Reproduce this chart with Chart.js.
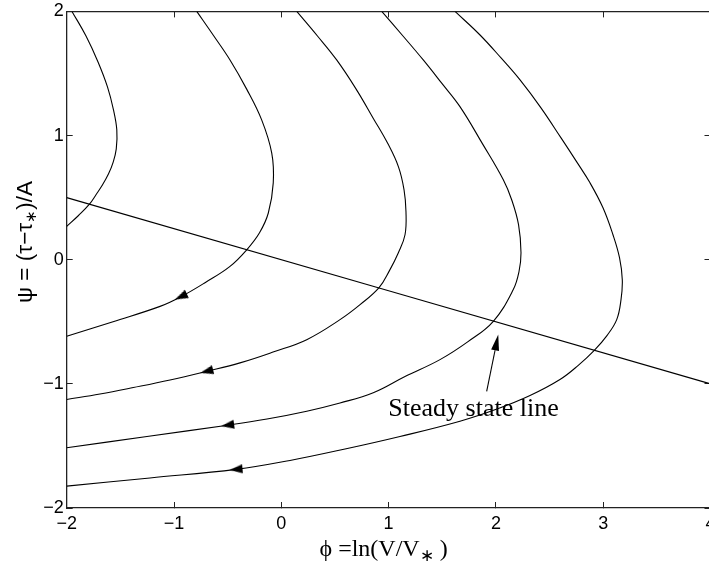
<!DOCTYPE html>
<html>
<head>
<meta charset="utf-8">
<script src="https://cdn.jsdelivr.net/npm/chart.js@4.4.0/dist/chart.umd.min.js"></script>
<style>
    html, body { margin: 0; padding: 0; background: #fff; overflow: hidden; }
    #wrap { position: relative; width: 720px; height: 567px; }
</style>
</head>
<body>
<div id="wrap"><canvas id="phaseChart"></canvas></div>
<script>
// tick labels
const xTicks = [-2, -1, 0, 1, 2, 3, 4];
const yTicks = [-2, -1, 0, 1, 2];

// steady state line psi = -phi/4
const steadyLine = [[-2, 0.5], [4, -1]];

// trajectories [phi, psi]
const traj1 = [[-1.951, 2.0], [-1.820, 1.802], [-1.708, 1.593], [-1.620, 1.392], [-1.564, 1.207],
    [-1.533, 1.046], [-1.538, 0.893], [-1.569, 0.780], [-1.610, 0.692], [-1.666, 0.603],
    [-1.727, 0.523], [-1.788, 0.447], [-1.890, 0.356], [-2.0, 0.268]];
const traj2 = [[-0.788, 2.0], [-0.632, 1.806], [-0.478, 1.609], [-0.324, 1.376], [-0.183, 1.126],
    [-0.089, 0.858], [-0.075, 0.619], [-0.121, 0.376], [-0.203, 0.217], [-0.322, 0.080],
    [-0.478, -0.054], [-0.711, -0.185], [-0.935, -0.298], [-1.130, -0.376], [-1.568, -0.499],
    [-2.0, -0.617]];
const traj3 = [[0.144, 2.0], [0.337, 1.802], [0.516, 1.609], [0.696, 1.376], [0.855, 1.142],
    [0.994, 0.933], [1.092, 0.748], [1.144, 0.563], [1.162, 0.386], [1.153, 0.201], [1.090, 0.054],
    [1.008, -0.088], [0.911, -0.225], [0.734, -0.362], [0.547, -0.483], [0.237, -0.644],
    [-0.077, -0.744], [-0.385, -0.831], [-0.695, -0.899], [-1.037, -0.969], [-1.379, -1.030],
    [-1.690, -1.082], [-2.0, -1.126]];
const traj4 = [[0.936, 2.0], [1.130, 1.806], [1.323, 1.609], [1.493, 1.424], [1.665, 1.233],
    [1.870, 0.941], [2.069, 0.644], [2.147, 0.483], [2.211, 0.282], [2.234, 0.056], [2.215, -0.097],
    [2.162, -0.241], [1.976, -0.496], [1.740, -0.660], [1.479, -0.805], [1.153, -0.941],
    [0.857, -1.072], [0.547, -1.154], [0.237, -1.220], [-0.133, -1.283], [-0.500, -1.333],
    [-1.252, -1.424], [-2.0, -1.515]];
const traj5 = [[1.619, 2.0], [1.852, 1.810], [2.048, 1.625], [2.225, 1.448], [2.420, 1.223],
    [2.607, 0.981], [2.747, 0.796], [2.877, 0.619], [2.998, 0.418], [3.091, 0.201], [3.152, 0.016],
    [3.178, -0.161], [3.166, -0.322], [3.126, -0.483], [3.035, -0.611], [2.917, -0.730],
    [2.765, -0.853], [2.597, -0.965], [2.318, -1.094], [2.010, -1.203], [1.665, -1.301],
    [1.106, -1.424], [0.594, -1.525], [0.081, -1.617], [-0.422, -1.689], [-1.224, -1.758],
    [-2.0, -1.824]];

// direction arrows on the trajectories
const arrowPhi = [-0.935, -0.695, -0.5, -0.422];
const arrowPsi = [-0.298, -0.899, -1.333, -1.689];
const arrowAngle = [245, 256, 262, 265];

// "Steady state line" note (data units)
const noteText = 'Steady state line';
const notePos = [0.997, -1.26];
const noteArrowFrom = [1.914, -1.06];
const noteArrowTo = [2.022, -0.603];

const toXY = arr => arr.map(p => ({x: p[0], y: p[1]}));
const fmt = v => v < 0 ? '\u2212' + Math.abs(v) : String(v);
const ink = '#000';
const frame = '#222';

// arrowhead image, pointing up
function makeHead(w, h) {
    const c = document.createElement('canvas');
    c.width = w;
    c.height = h;
    const g = c.getContext('2d');
    g.fillStyle = '#000';
    g.beginPath();
    g.moveTo(w / 2, 0);
    g.lineTo(w, h);
    g.lineTo(0, h);
    g.closePath();
    g.fill();
    return c;
}
const head = makeHead(9, 13);

function lineSet(data) {
    return {
        data: toXY(data),
        showLine: true,
        borderColor: ink,
        borderWidth: 1.1,
        pointRadius: 0,
        tension: 0.4,
        fill: false
    };
}

const labelsPlugin = {
    id: 'labelsPlugin',
    afterDraw(chart) {
        const {ctx, chartArea, scales} = chart;
        const sx = scales.x, sy = scales.y;
        ctx.save();
        ctx.fillStyle = ink;
        ctx.strokeStyle = ink;
        ctx.textBaseline = 'alphabetic';
        ctx.textAlign = 'left';

        // x axis label: phi = ln(V/V*)
        const bigX = '24px "Liberation Serif"';
        const smallX = '17px "Liberation Serif"';
        const partsX = [['\u03D5 =ln(V/V', bigX, 0], ['\u2217', smallX, 5], [' )', bigX, 0]];
        let total = 0;
        partsX.forEach(p => { ctx.font = p[1]; total += ctx.measureText(p[0]).width; });
        let px = (chartArea.left + chartArea.right) / 2 - 5 - total / 2;
        partsX.forEach(p => {
            ctx.font = p[1];
            ctx.fillText(p[0], px, 556 + p[2]);
            px += ctx.measureText(p[0]).width;
        });

        // y axis label: psi = (tau - tau*)/A
        const bigY = '22.5px "Liberation Sans"';
        const smallY = '15px "Liberation Sans"';
        const partsY = [['\u03C8 = (\u03C4\u2212\u03C4', bigY, 0], ['\u2217', smallY, 4], [')/A', bigY, 0]];
        total = 0;
        partsY.forEach(p => { ctx.font = p[1]; total += ctx.measureText(p[0]).width; });
        ctx.save();
        ctx.translate(32, 242);
        ctx.rotate(-Math.PI / 2);
        px = -total / 2;
        partsY.forEach(p => {
            ctx.font = p[1];
            ctx.fillText(p[0], px, p[2]);
            px += ctx.measureText(p[0]).width;
        });
        ctx.restore();

        // note text and arrow
        ctx.font = '26px "Liberation Serif"';
        ctx.fillText(noteText, sx.getPixelForValue(notePos[0]), sy.getPixelForValue(notePos[1]));
        const x0 = sx.getPixelForValue(noteArrowFrom[0]), y0 = sy.getPixelForValue(noteArrowFrom[1]);
        const x1 = sx.getPixelForValue(noteArrowTo[0]), y1 = sy.getPixelForValue(noteArrowTo[1]);
        const ang = Math.atan2(y1 - y0, x1 - x0);
        const hl = 16, hw = 4;
        ctx.lineWidth = 1.1;
        ctx.beginPath();
        ctx.moveTo(x0, y0);
        ctx.lineTo(x1 - hl * Math.cos(ang), y1 - hl * Math.sin(ang));
        ctx.stroke();
        ctx.beginPath();
        ctx.moveTo(x1, y1);
        ctx.lineTo(x1 - hl * Math.cos(ang) - hw * Math.sin(ang), y1 - hl * Math.sin(ang) + hw * Math.cos(ang));
        ctx.lineTo(x1 - hl * Math.cos(ang) + hw * Math.sin(ang), y1 - hl * Math.sin(ang) - hw * Math.cos(ang));
        ctx.closePath();
        ctx.fill();
        ctx.restore();
    }
};

const tickFont = {family: 'Liberation Sans', size: 18};

// keep the axes from adding label padding to the layout
function fitX(h) {
    return s => { s.height = h; s.paddingLeft = 0; s.paddingRight = 0; };
}
function fitY(w) {
    return s => { s.width = w; s.paddingTop = 0; s.paddingBottom = 0; };
}

new Chart(document.getElementById('phaseChart'), {
    type: 'scatter',
    data: {
        datasets: [
            lineSet(steadyLine),
            lineSet(traj1),
            lineSet(traj2),
            lineSet(traj3),
            lineSet(traj4),
            lineSet(traj5),
            {
                data: arrowPhi.map((v, i) => ({x: v, y: arrowPsi[i]})),
                showLine: false,
                pointStyle: head,
                pointRotation: arrowAngle,
                pointRadius: 6
            }
        ]
    },
    options: {
        responsive: true,
        maintainAspectRatio: false,
        animation: false,
        events: [],
        layout: {padding: {left: 0, top: 11.4, right: 9.5, bottom: 0}},
        plugins: {legend: {display: false}, tooltip: {enabled: false}},
        scales: {
            x: {
                type: 'linear', position: 'bottom', min: -2, max: 4,
                afterBuildTicks: s => { s.ticks = xTicks.map(v => ({value: v})); },
                afterFit: fitX(59),
                grid: {drawOnChartArea: false, tickLength: -6, color: frame, lineWidth: 1},
                border: {color: frame, width: 1.3},
                ticks: {padding: 11, color: ink, font: tickFont, maxRotation: 0, autoSkip: false, callback: v => fmt(v)}
            },
            y: {
                type: 'linear', position: 'left', min: -2, max: 2,
                afterBuildTicks: s => { s.ticks = yTicks.map(v => ({value: v})); },
                afterFit: fitY(66.7),
                grid: {drawOnChartArea: false, tickLength: -6, color: frame, lineWidth: 1},
                border: {color: frame, width: 1.3},
                ticks: {padding: 9, color: ink, font: tickFont, autoSkip: false, callback: v => fmt(v)}
            },
            x2: {
                type: 'linear', position: 'top', min: -2, max: 4,
                afterBuildTicks: s => { s.ticks = xTicks.map(v => ({value: v})); },
                afterFit: fitX(0),
                grid: {drawOnChartArea: false, tickLength: -6, color: frame, lineWidth: 1},
                border: {color: frame, width: 1.3},
                ticks: {display: false}
            },
            y2: {
                type: 'linear', position: 'right', min: -2, max: 2,
                afterBuildTicks: s => { s.ticks = yTicks.map(v => ({value: v})); },
                afterFit: fitY(0),
                grid: {drawOnChartArea: false, tickLength: -6, color: frame, lineWidth: 1},
                border: {color: frame, width: 1.3},
                ticks: {display: false}
            }
        }
    },
    plugins: [labelsPlugin]
});
</script>
</body>
</html>
